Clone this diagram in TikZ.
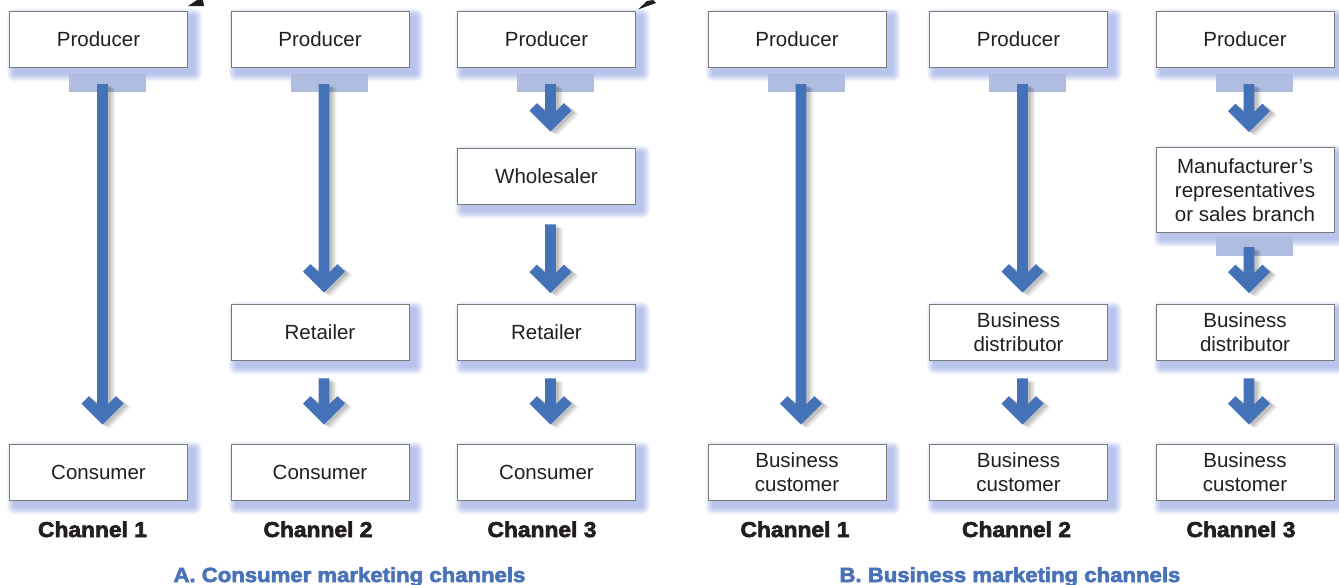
\documentclass[tikz,border=0pt]{standalone}
\usepackage{fontspec}
\setmainfont{Liberation Sans}
\newfontfamily\chanfont[FakeBold=3,FakeStretch=1.06]{Liberation Sans Bold}
\newfontfamily\titlefont[FakeBold=3,FakeStretch=1.08]{Liberation Sans Bold}
\usetikzlibrary{calc,backgrounds}
\definecolor{arrowblue}{HTML}{4472B9}
\definecolor{barblue}{HTML}{AFBDE1}
\definecolor{glowblue}{HTML}{6A82D6}
\definecolor{titleblue}{HTML}{4A72B8}
\definecolor{ink}{HTML}{231F20}
\definecolor{boxline}{HTML}{7A7A7A}
\begin{document}
\begin{tikzpicture}[x=1pt,y=-1pt,
 box/.style={draw=boxline, line width=0.9pt, fill=white, minimum width=178pt, minimum height=56pt, inner sep=0pt, align=center, text=ink, font=\fontsize{20.5}{24}\selectfont},
 bar/.style={fill=barblue, minimum width=77pt, minimum height=19pt, inner sep=0pt},
 chan/.style={anchor=base, text=ink, font=\chanfont\fontsize{21.5}{24}\selectfont},
 sectitle/.style={anchor=base west, text=titleblue, font=\titlefont\fontsize{20.5}{24}\selectfont},
 blockarrow/.style={fill=arrowblue,
   preaction={fill=black,opacity=0.07,transform canvas={shift={(7pt,-4pt)}}},
   preaction={fill=black,opacity=0.09,transform canvas={shift={(5pt,-3pt)}}},
   preaction={fill=black,opacity=0.11,transform canvas={shift={(3pt,-2pt)}}},
   to path={let \p1=(\tikztostart), \p2=(\tikztotarget) in
     (\x1-5.3pt,\y1) -- (\x1-5.3pt,\y2+20.3pt) -- (\x1-13.5pt,\y2+28.5pt) -- (\x1-21pt,\y2+21pt) -- (\x1,\y2)
     -- (\x1+21pt,\y2+21pt) -- (\x1+13.5pt,\y2+28.5pt) -- (\x1+5.3pt,\y2+20.3pt) -- (\x1+5.3pt,\y1) -- cycle}}
]
\useasboundingbox (0,0) rectangle (1339,584);

% boxes
\node[box] (p1) at (98.5,39) {Producer};
\node[box] (p2) at (320,39) {Producer};
\node[box] (p3) at (546.5,39) {Producer};
\node[box] (p4) at (797,39) {Producer};
\node[box] (p5) at (1018.5,39) {Producer};
\node[box] (p6) at (1245,39) {Producer};

\node[box] (c1) at (98.5,472) {Consumer};
\node[box] (r2) at (320,332) {Retailer};
\node[box] (c2) at (320,472) {Consumer};
\node[box] (w3) at (546.5,176) {Wholesaler};
\node[box] (r3) at (546.5,332) {Retailer};
\node[box] (c3) at (546.5,472) {Consumer};

\node[box] (bc4) at (797,472) {Business\\customer};
\node[box] (bd5) at (1018.5,332) {Business\\distributor};
\node[box] (bc5) at (1018.5,472) {Business\\customer};
\node[box, minimum height=85pt] (m6) at (1245,190) {Manufacturer’s\\representatives\\or sales branch};
\node[box] (bd6) at (1245,332) {Business\\distributor};
\node[box] (bc6) at (1245,472) {Business\\customer};

% glows behind boxes
\begin{scope}[on background layer]
\foreach \n in {p1,p2,p3,p4,p5,p6,c1,r2,c2,w3,r3,c3,bc4,bd5,bc5,m6,bd6,bc6}{
  \foreach \k in {1,...,8}{
    \fill[glowblue,opacity=0.08,rounded corners=\k pt]
      ([shift={({(6-\k)*1pt},{(-6-\k)*1pt})}]\n.south west) rectangle
      ([shift={({(6+\k)*1pt},{(-6+\k)*1pt})}]\n.north east);
  }
}
\end{scope}

% bars
\node[bar] (bar1) at (107.5,82.5) {};
\node[bar] (bar2) at (329,82.5) {};
\node[bar] (bar3) at (555.5,82.5) {};
\node[bar] (bar4) at (806,82.5) {};
\node[bar] (bar5) at (1027.5,82.5) {};
\node[bar] (bar6) at (1254,82.5) {};
\node[bar] (bar7) at (1254,246.5) {};

% arrows
\fill[blockarrow] ([shift={(-5pt,-1.5pt)}]bar1.center) to ([shift={(4pt,19pt)}]c1.north);

\fill[blockarrow] ([shift={(-5pt,-1.5pt)}]bar2.center) to ([shift={(4pt,11pt)}]r2.north);
\fill[blockarrow] ([shift={(4pt,-18pt)}]r2.south) to ([shift={(4pt,19pt)}]c2.north);

\fill[blockarrow] ([shift={(-5pt,-1.5pt)}]bar3.center) to ([shift={(4pt,16pt)}]w3.north);
\fill[blockarrow] ([shift={(4pt,-20pt)}]w3.south) to ([shift={(4pt,10.5pt)}]r3.north);
\fill[blockarrow] ([shift={(4pt,-18pt)}]r3.south) to ([shift={(4pt,19pt)}]c3.north);

\fill[blockarrow] ([shift={(-5pt,-1.5pt)}]bar4.center) to ([shift={(4pt,19pt)}]bc4.north);

\fill[blockarrow] ([shift={(-5pt,-1.5pt)}]bar5.center) to ([shift={(4pt,11pt)}]bd5.north);
\fill[blockarrow] ([shift={(4pt,-18pt)}]bd5.south) to ([shift={(4pt,19pt)}]bc5.north);

\fill[blockarrow] ([shift={(-5pt,-1.5pt)}]bar6.center) to ([shift={(4pt,15pt)}]m6.north);
\fill[blockarrow] ([shift={(-5pt,-0.5pt)}]bar7.center) to ([shift={(4pt,10.5pt)}]bd6.north);
\fill[blockarrow] ([shift={(4pt,-18pt)}]bd6.south) to ([shift={(4pt,19pt)}]bc6.north);

% channel labels
\node[chan] (ch1) at (92.5,537) {Channel 1};
\node[chan] (ch2) at (318,537) {Channel 2};
\node[chan] (ch3) at (542,537) {Channel 3};
\node[chan] (ch4) at (795,537) {Channel 1};
\node[chan] (ch5) at (1016.5,537) {Channel 2};
\node[chan] (ch6) at (1241,537) {Channel 3};

% section titles
\node[sectitle] (ta) at (170,582) {A. Consumer marketing channels};
\node[sectitle] (tb) at (836,582) {B. Business marketing channels};

% small marks at top edge
\fill[ink] (188,6) -- (197,0) -- (203,0) -- (204,6) -- cycle;
\fill[ink] (638,9.5) -- (647,1) -- (653,0) -- (656,3) -- cycle;
\end{tikzpicture}
\end{document}
